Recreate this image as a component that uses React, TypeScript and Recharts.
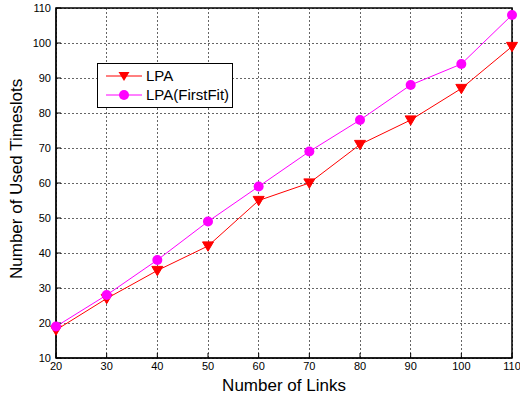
import React from "react";
import {
  CartesianGrid,
  Line,
  LineChart,
  ReferenceArea,
  XAxis,
  YAxis,
} from "recharts";

const links = [20, 30, 40, 50, 60, 70, 80, 90, 100, 110];
const lpa = [18, 27, 35, 42, 55, 60, 71, 78, 87, 99];
const lpaFirstFit = [19, 28, 38, 49, 59, 69, 78, 88, 94, 108];
const xTicks = [20, 30, 40, 50, 60, 70, 80, 90, 100, 110];
const yTicks = [10, 20, 30, 40, 50, 60, 70, 80, 90, 100, 110];

const data = links.map((n, i) => ({ n, lpa: lpa[i], ff: lpaFirstFit[i] }));

const FONT = "'Liberation Sans', Arial, sans-serif";
const RED = "#ff0000";
const MAGENTA = "#ff00ff";

function Triangle(props: any) {
  const { cx, cy, index } = props;
  if (cx == null || cy == null) return <g key={index} />;
  const s = 5.5;
  return (
    <path
      key={index}
      d={`M${cx - s},${cy - s * 0.75} L${cx + s},${cy - s * 0.75} L${cx},${cy + s * 0.95} Z`}
      fill={RED}
      stroke={RED}
    />
  );
}

function LegendBox() {
  const rows = [
    { name: "LPA", color: RED, tri: true },
    { name: "LPA(FirstFit)", color: MAGENTA, tri: false },
  ];
  return (
    <div
      style={{
        position: "absolute",
        left: 97,
        top: 63,
        border: "1px solid #000",
        background: "#fff",
        width: 134,
        padding: "2px 0 3px 0",
        fontFamily: FONT,
        fontSize: 15,
        boxSizing: "content-box",
      }}
    >
      {rows.map((r) => (
        <div key={r.name} style={{ display: "flex", alignItems: "center", height: 19 }}>
          <svg width={42} height={14} style={{ marginLeft: 6 }}>
            <line x1={2} y1={7} x2={38} y2={7} stroke={r.color} strokeWidth={1} />
            {r.tri ? (
              <path d="M14.5,3 L25.5,3 L20,12 Z" fill={r.color} />
            ) : (
              <circle cx={20} cy={7} r={5} fill={r.color} />
            )}
          </svg>
          <span style={{ color: "#000" }}>{r.name}</span>
        </div>
      ))}
    </div>
  );
}

export default function App() {
  const tick = { fontSize: 11, fill: "#000", fontFamily: FONT };
  return (
    <div style={{ position: "absolute", left: 0, top: 0, width: 520, height: 396, background: "#fff" }}>
      <LineChart width={520} height={396} data={data} margin={{ top: 8, right: 8, left: 0, bottom: 0 }}>
        <CartesianGrid
          xAxisId="b"
          yAxisId="l"
          stroke="#666"
          strokeWidth={1}
          strokeDasharray="2 2"
          shapeRendering="crispEdges"
          syncWithTicks
        />
        <XAxis
          xAxisId="b"
          dataKey="n"
          type="number"
          domain={[20, 110]}
          ticks={xTicks}
          interval={0}
          tick={tick}
          tickSize={-5}
          tickMargin={9}
          axisLine={{ stroke: "#000", strokeWidth: 1 }}
          tickLine={{ stroke: "#000" }}
          height={38}
          label={{ value: "Number of Links", position: "insideBottom", offset: 5, fontSize: 17, fill: "#000", fontFamily: FONT }}
        />
        <XAxis
          xAxisId="t"
          orientation="top"
          dataKey="n"
          type="number"
          domain={[20, 110]}
          ticks={xTicks}
          tickFormatter={() => ""}
          tickSize={-5}
          height={0}
          axisLine={{ stroke: "#000" }}
          tickLine={{ stroke: "#000" }}
        />
        <YAxis
          yAxisId="l"
          type="number"
          domain={[10, 110]}
          ticks={yTicks}
          interval={0}
          tick={tick}
          tickSize={-5}
          tickMargin={10}
          width={56}
          axisLine={{ stroke: "#000" }}
          tickLine={{ stroke: "#000" }}
          label={{ value: "Number of Used Timeslots", angle: -90, position: "insideLeft", offset: 16, dy: 96, fontSize: 17, fill: "#000", fontFamily: FONT }}
        />
        <YAxis
          yAxisId="r"
          orientation="right"
          type="number"
          domain={[10, 110]}
          ticks={yTicks}
          tickFormatter={() => ""}
          tickSize={-5}
          width={0}
          axisLine={{ stroke: "#000" }}
          tickLine={{ stroke: "#000" }}
        />
        <ReferenceArea xAxisId="b" yAxisId="l" x1={20} x2={110} y1={10} y2={110} fill="none" stroke="#000" strokeWidth={1.5} />
        <Line
          xAxisId="b"
          yAxisId="l"
          dataKey="lpa"
          name="LPA"
          stroke={RED}
          strokeWidth={1}
          dot={Triangle}
          isAnimationActive={false}
        />
        <Line
          xAxisId="b"
          yAxisId="l"
          dataKey="ff"
          name="LPA(FirstFit)"
          stroke={MAGENTA}
          strokeWidth={1}
          dot={{ r: 5, fill: MAGENTA, stroke: MAGENTA, strokeWidth: 0 }}
          isAnimationActive={false}
        />
      </LineChart>
      <LegendBox />
    </div>
  );
}
